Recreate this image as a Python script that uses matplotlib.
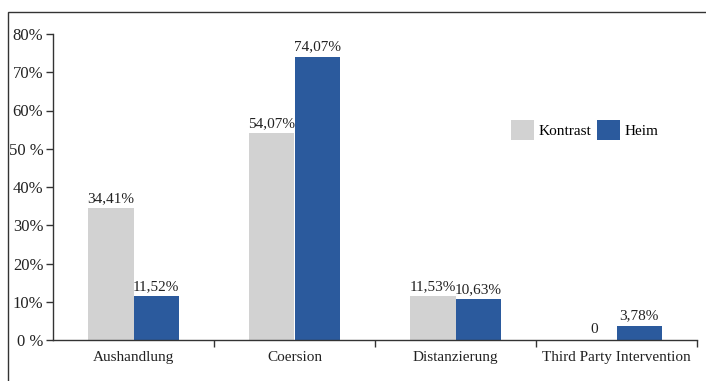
import matplotlib
matplotlib.use("Agg")
import matplotlib.pyplot as plt
import numpy as np
from matplotlib.patches import Rectangle

categories = ["Aushandlung", "Coersion", "Distanzierung", "Third Party Intervention"]
kontrast = [34.41, 54.07, 11.53, 0.0]
heim = [11.52, 74.07, 10.63, 3.78]
kontrast_labels = ["34,41%", "54,07%", "11,53%", "0"]
heim_labels = ["11,52%", "74,07%", "10,63%", "3,78%"]
ytick_vals = [0, 10, 20, 30, 40, 50, 60, 70, 80]
ytick_labels = ["0 %", "10%", "20%", "30%", "40%", "50 %", "60%", "70%", "80%"]

plt.rcParams['font.family'] = ['Liberation Serif', 'DejaVu Serif']

fig = plt.figure(figsize=(7.06, 3.81), dpi=100)
fig.patch.set_facecolor("white")
ax = fig.add_axes([53/706, 1 - 340/381, (697 - 53)/706, (340 - 34)/381])

# outer frame
fig.patches.append(Rectangle((8/706, -0.05), 1.1, 1 - 12/381 + 0.05,
                             transform=fig.transFigure, fill=False,
                             edgecolor="#333333", linewidth=1.0))

gray = "#d2d2d2"
blue = "#2b5a9d"
w = 0.28
x = np.arange(len(categories)) + 0.5
b1 = ax.bar(x - w/2, kontrast, width=w, color=gray, label="Kontrast")
b2 = ax.bar(x + w/2, heim, width=w, color=blue, label="Heim")

for xi, v, lab in zip(x - w/2, kontrast, kontrast_labels):
    ax.text(xi, v + 0.8 if v > 0 else 1.0, lab, ha="center", va="bottom", fontsize=11, color="#222222")
for xi, v, lab in zip(x + w/2, heim, heim_labels):
    ax.text(xi, v + 0.8, lab, ha="center", va="bottom", fontsize=11, color="#222222")

ax.set_xlim(0, 4)
ax.set_ylim(0, 80)
ax.set_yticks(ytick_vals)
ax.set_yticklabels(ytick_labels, fontsize=12, color="#222222")
ax.set_xticks(x)
ax.set_xticklabels(categories, fontsize=11, color="#222222")
ax.set_xticks([1, 2, 3, 4], minor=True)
ax.tick_params(axis="x", which="major", length=0, pad=8)
ax.tick_params(axis="x", which="minor", length=5, width=1, direction="out", color="#333333")
ax.tick_params(axis="y", length=5, width=1, direction="out", color="#333333", pad=2)

for s in ["top", "right"]:
    ax.spines[s].set_visible(False)
for s in ["left", "bottom"]:
    ax.spines[s].set_color("#333333")
    ax.spines[s].set_linewidth(1.0)

ax.legend(loc="upper left", bbox_to_anchor=((505 - 53)/644, (340 - 114)/306),
          ncol=2, frameon=False, fontsize=11, handlelength=1.5, handleheight=1.6,
          handletextpad=0.3, columnspacing=0.4, borderaxespad=0)

fig.savefig("out.png", dpi=100, facecolor="white")
